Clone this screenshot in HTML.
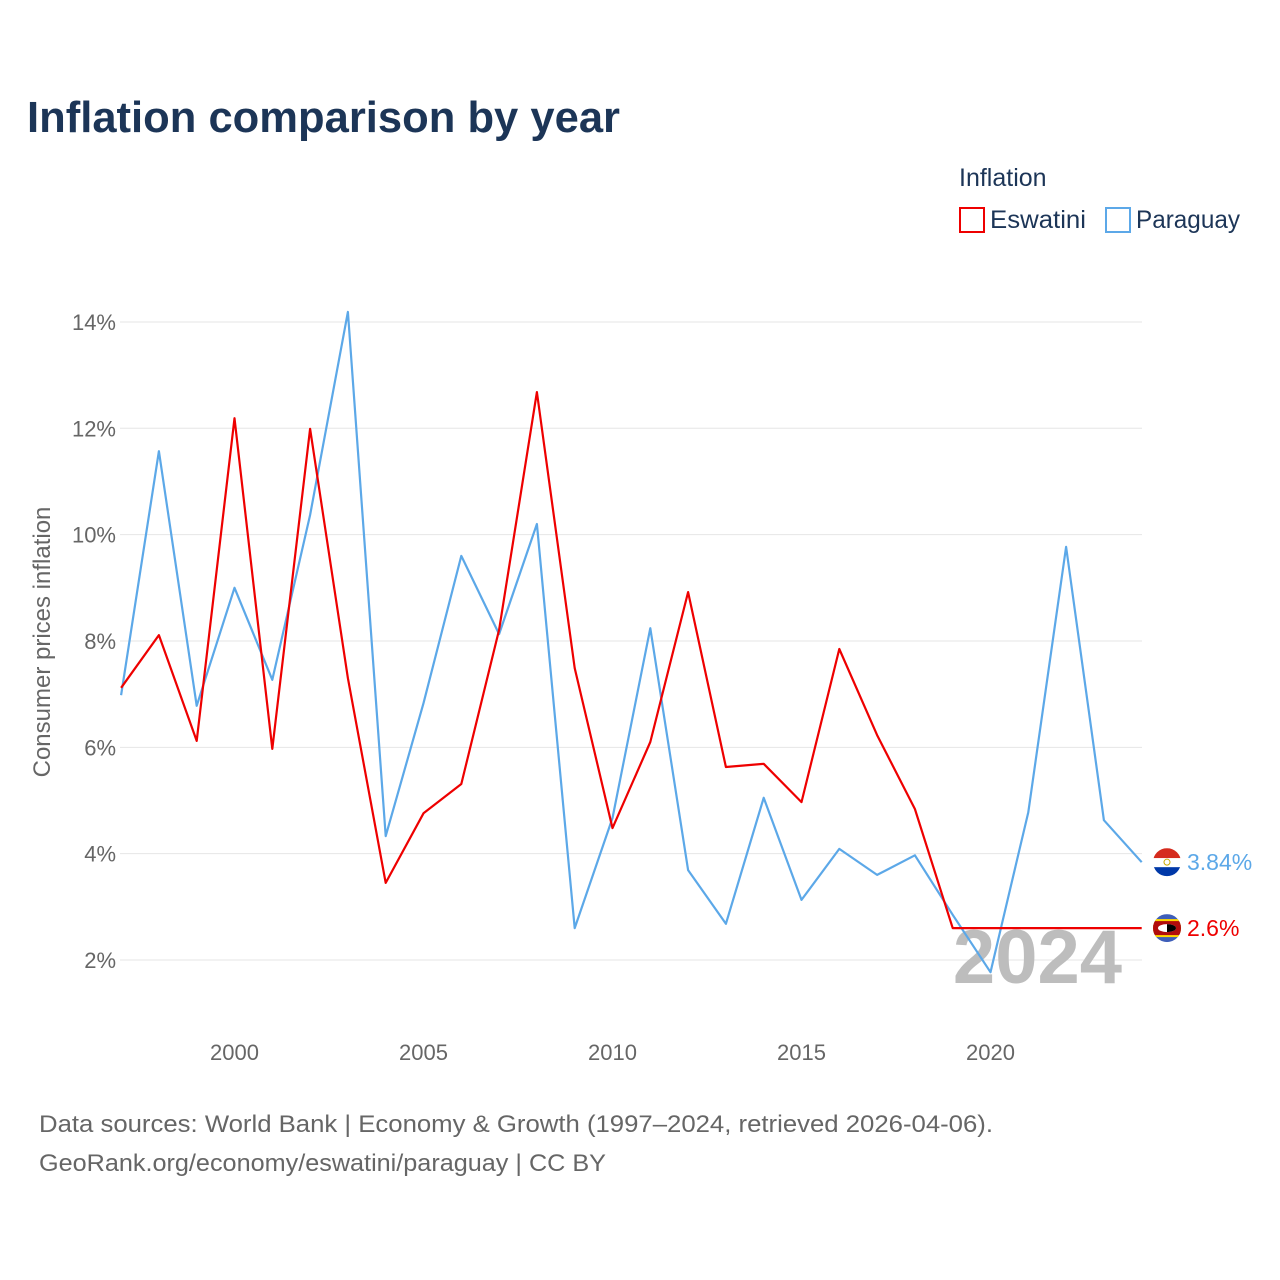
<!DOCTYPE html>
<html><head><meta charset="utf-8"><style>
body{margin:0;background:#fff;font-family:"Liberation Sans",sans-serif}
svg{display:block}
</style></head><body>
<svg id="chart" width="1280" height="1280" viewBox="0 0 1280 1280">
<text x="27" y="132" font-size="44" font-weight="bold" fill="#1c3557" textLength="593" lengthAdjust="spacingAndGlyphs">Inflation comparison by year</text>
<text x="959" y="186" font-size="25" fill="#1c3557">Inflation</text>
<g><rect x="960" y="208" width="24" height="24" fill="none" stroke="#ee0000" stroke-width="2"/><text x="990" y="228" font-size="25" fill="#1c3557" textLength="96" lengthAdjust="spacingAndGlyphs">Eswatini</text></g>
<g><rect x="1106" y="208" width="24" height="24" fill="none" stroke="#5ca8e8" stroke-width="2"/><text x="1136" y="228" font-size="25" fill="#1c3557" textLength="104" lengthAdjust="spacingAndGlyphs">Paraguay</text></g>
<g id="grid"></g><g id="xticks"></g><g id="yticks"></g>
<text transform="translate(50,642) rotate(-90)" text-anchor="middle" font-size="24" fill="#666">Consumer prices inflation</text>
<text x="1122" y="983" text-anchor="end" font-size="76" font-weight="bold" fill="#bdbdbd">2024</text>
<g id="series"></g>
<text x="39" y="1132" font-size="24" fill="#666" textLength="954" lengthAdjust="spacingAndGlyphs">Data sources: World Bank | Economy &amp; Growth (1997–2024, retrieved 2026-04-06).</text>
<text x="39" y="1171" font-size="24" fill="#666" textLength="567" lengthAdjust="spacingAndGlyphs">GeoRank.org/economy/eswatini/paraguay | CC BY</text>
</svg>
<script>
const years=[1997,1998,1999,2000,2001,2002,2003,2004,2005,2006,2007,2008,2009,2010,2011,2012,2013,2014,2015,2016,2017,2018,2019,2020,2021,2022,2023,2024];
const eswatini=[7.12,8.11,6.12,12.19,5.97,11.99,7.30,3.45,4.76,5.31,8.21,12.68,7.49,4.48,6.10,8.92,5.63,5.69,4.97,7.85,6.23,4.84,2.6,2.6,2.6,2.6,2.6,2.6];
const paraguay=[6.98,11.57,6.78,9.0,7.27,10.37,14.19,4.33,6.83,9.6,8.13,10.2,2.6,4.67,8.24,3.69,2.68,5.05,3.13,4.09,3.6,3.97,2.85,1.77,4.78,9.77,4.63,3.84];
const yTicks=[2,4,6,8,10,12,14];
const xTicks=[2000,2005,2010,2015,2020];
const NS="http://www.w3.org/2000/svg";
const xs=y=>234.5+(y-2000)*37.8;
const ys=v=>960-(v-2)*53.17;
function mk(tag,attrs,parent,txt){const e=document.createElementNS(NS,tag);for(const k in attrs)e.setAttribute(k,attrs[k]);if(txt!==undefined)e.textContent=txt;document.getElementById(parent).appendChild(e);return e;}
yTicks.forEach(t=>{
 const l=mk('line',{x1:120,x2:1142,y1:ys(t),y2:ys(t),stroke:'#e6e6e6','stroke-width':1},'grid');
 
 
 const tx=mk('text',{x:116,y:ys(t)+8,'text-anchor':'end','font-size':22,fill:'#666'},'yticks',t+'%');
 
 
});
xTicks.forEach(t=>{
 const tx=mk('text',{x:xs(t),y:1060,'text-anchor':'middle','font-size':22,fill:'#666'},'xticks',String(t));
 
 
});
function line(vals,color,name){
 const d=vals.map((v,i)=>(i?'L':'M')+xs(years[i]).toFixed(1)+','+ys(v).toFixed(1)).join('');
 const p=mk('path',{d:d,fill:'none',stroke:color,'stroke-width':2.2,'stroke-linejoin':'round'},'series');
 
 
}
line(paraguay,'#5ca8e8','paraguay-line');
line(eswatini,'#ee0000','eswatini-line');
function endLabel(vals,color,name,txt,flag){
 const v=vals[vals.length-1],y=ys(v);
 const g=mk('g',{},'series');
 
 
 const cx=1167;
 g.innerHTML=flag(cx,y)+`<text x="1187" y="${y+8}" font-size="23" fill="${color}">${txt}</text>`;
}
endLabel(paraguay,'#5ca8e8','paraguay-end-label',paraguay[paraguay.length-1]+'%',(cx,y)=>`<clipPath id="cp"><circle cx="${cx}" cy="${y}" r="14"/></clipPath><g clip-path="url(#cp)"><rect x="${cx-14}" y="${y-14}" width="28" height="10" fill="#d52b1e"/><rect x="${cx-14}" y="${y-4}" width="28" height="9" fill="#fff"/><rect x="${cx-14}" y="${y+5}" width="28" height="10" fill="#0038a8"/><circle cx="${cx}" cy="${y}" r="3" fill="none" stroke="#c9a800"/></g>`);
endLabel(eswatini,'#ee0000','eswatini-end-label',eswatini[eswatini.length-1]+'%',(cx,y)=>`<clipPath id="ce"><circle cx="${cx}" cy="${y}" r="14"/></clipPath><g clip-path="url(#ce)"><rect x="${cx-14}" y="${y-14}" width="28" height="28" fill="#3e5eb9"/><rect x="${cx-14}" y="${y-9}" width="28" height="18" fill="#ffd900"/><rect x="${cx-14}" y="${y-7}" width="28" height="14" fill="#b10c0c"/><ellipse cx="${cx}" cy="${y}" rx="9" ry="4" fill="#fff"/><path d="M${cx} ${y-4}A9 4 0 0 1 ${cx} ${y+4}Z" fill="#000"/></g>`);
</script>
</body></html>
